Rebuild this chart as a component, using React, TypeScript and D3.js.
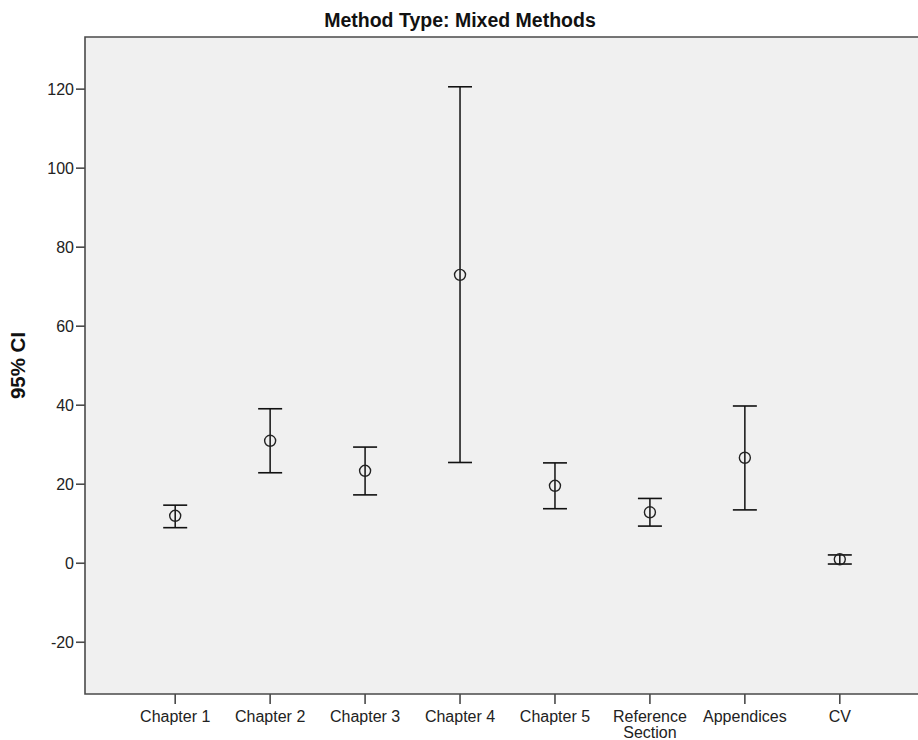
import * as d3 from "d3";
import { useEffect, useRef } from "react";

const categories = ["Chapter 1", "Chapter 2", "Chapter 3", "Chapter 4", "Chapter 5", "Reference Section", "Appendices", "CV"];
const means = [12.0, 31.0, 23.4, 73.0, 19.6, 12.9, 26.7, 1.0];
const lower = [9.0, 22.9, 17.3, 25.5, 13.8, 9.4, 13.5, -0.2];
const upper = [14.7, 39.1, 29.4, 120.6, 25.4, 16.4, 39.8, 2.1];
const yTicks = [-20, 0, 20, 40, 60, 80, 100, 120];

export default function App() {
  const ref = useRef<SVGSVGElement>(null);

  useEffect(() => {
    if (!ref.current) return;
    const el = ref.current;
    d3.select(el).selectAll("*").remove();

    const W = 918;
    const H = 740;
    const plot = { left: 85, top: 37, right: 930, bottom: 694 };
    const font = "'Liberation Sans', Arial, sans-serif";
    const frame = "#4a4a4a";

    const svg = d3.select(el).attr("width", W).attr("height", H).attr("viewBox", `0 0 ${W} ${H}`);

    const x = d3.scalePoint<string>().domain(categories).range([plot.left, plot.right]).padding(0.95);
    const y = d3.scaleLinear().domain([-33.1, 133.2]).range([plot.bottom, plot.top]);

    // plot background
    svg.append("rect")
      .attr("x", plot.left)
      .attr("y", plot.top)
      .attr("width", plot.right - plot.left)
      .attr("height", plot.bottom - plot.top)
      .attr("fill", "#f0f0f0");

    // frame (left, top, bottom)
    svg.append("path")
      .attr("d", `M${plot.right},${plot.top}H${plot.left}V${plot.bottom}H${plot.right}`)
      .attr("fill", "none")
      .attr("stroke", frame)
      .attr("stroke-width", 1.6);

    // y axis ticks
    const yt = svg.append("g").selectAll("g").data(yTicks).join("g")
      .attr("transform", d => `translate(0,${y(d)})`);
    yt.append("line").attr("x1", plot.left - 9).attr("x2", plot.left).attr("stroke", frame).attr("stroke-width", 1.6);
    yt.append("text")
      .attr("x", plot.left - 11)
      .attr("dy", "0.35em")
      .attr("text-anchor", "end")
      .attr("font-family", font)
      .attr("font-size", 16)
      .attr("fill", "#222")
      .text(d => d);

    // x axis ticks
    const xt = svg.append("g").selectAll("g").data(categories).join("g")
      .attr("transform", d => `translate(${x(d)},0)`);
    xt.append("line").attr("y1", plot.bottom).attr("y2", plot.bottom + 10).attr("stroke", frame).attr("stroke-width", 1.6);
    xt.append("text")
      .attr("text-anchor", "middle")
      .attr("font-family", font)
      .attr("font-size", 16)
      .attr("fill", "#222")
      .selectAll("tspan")
      .data(d => (d === "Reference Section" ? ["Reference", "Section"] : [d]))
      .join("tspan")
      .attr("x", 0)
      .attr("y", (_, i) => plot.bottom + 28 + i * 15.5)
      .text(d => d);

    // error bars
    const bars = svg.append("g").selectAll("g").data(categories).join("g")
      .attr("transform", d => `translate(${x(d)},0)`);
    bars.append("line")
      .attr("y1", (_, i) => y(upper[i]))
      .attr("y2", (_, i) => y(lower[i]))
      .attr("stroke", "#111")
      .attr("stroke-width", 1.5);
    bars.selectAll(".cap")
      .data((_, i) => [upper[i], lower[i]])
      .join("line")
      .attr("class", "cap")
      .attr("x1", -12)
      .attr("x2", 12)
      .attr("y1", d => y(d))
      .attr("y2", d => y(d))
      .attr("stroke", "#111")
      .attr("stroke-width", 1.6);
    bars.append("circle")
      .attr("cy", (_, i) => y(means[i]))
      .attr("r", 5.5)
      .attr("fill", "none")
      .attr("stroke", "#222")
      .attr("stroke-width", 1.4);

    // title
    svg.append("text")
      .attr("x", 460)
      .attr("y", 27)
      .attr("text-anchor", "middle")
      .attr("font-family", font)
      .attr("font-weight", 700)
      .attr("font-size", 19.5)
      .attr("fill", "#111")
      .text("Method Type: Mixed Methods");

    // y label
    svg.append("text")
      .attr("transform", `translate(25,${(plot.top + plot.bottom) / 2}) rotate(-90)`)
      .attr("text-anchor", "middle")
      .attr("font-family", font)
      .attr("font-weight", 700)
      .attr("font-size", 20.5)
      .attr("fill", "#111")
      .text("95% CI");
  }, []);

  return (
    <div style={{ position: "absolute", left: 0, top: 0, width: 918, height: 740, background: "#fff", overflow: "hidden" }}>
      <svg ref={ref} style={{ display: "block" }} />
    </div>
  );
}
